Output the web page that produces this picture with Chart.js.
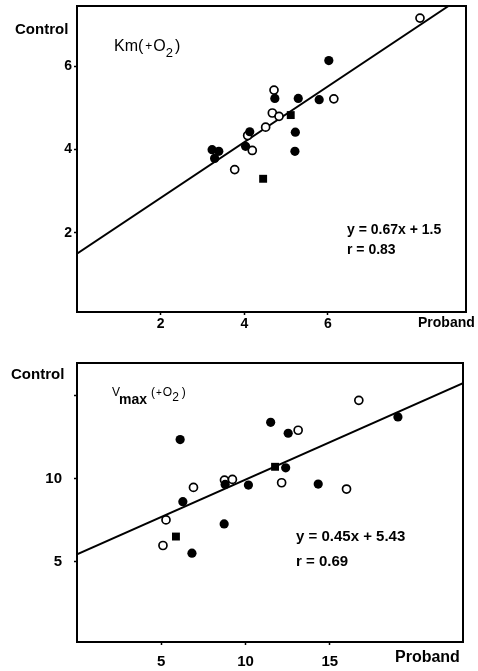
<!DOCTYPE html>
<html>
<head>
<meta charset="utf-8">
<script src="https://cdn.jsdelivr.net/npm/chart.js@4.4.1/dist/chart.umd.min.js"></script>
<style>
  html, body { margin: 0; padding: 0; background: #fff; }
  #wrap { position: relative; width: 478px; height: 671px; }
  .panel { position: absolute; left: 0; width: 478px; }
  #top { top: 0; height: 335px; }
  #bottom { top: 335px; height: 336px; }
</style>
</head>
<body>
<div id="wrap">
  <div class="panel" id="top"><canvas id="kmChart" width="478" height="335"></canvas></div>
  <div class="panel" id="bottom"><canvas id="vmaxChart" width="478" height="336"></canvas></div>
</div>
<script>
// Km (+O2): proband vs control
const kmFilledX = [6.02, 4.73, 5.29, 5.79, 4.13, 5.22, 4.03, 3.23, 3.39, 3.29, 5.21];
const kmFilledY = [6.14, 5.23, 5.23, 5.20, 4.43, 4.42, 4.08, 4.00, 3.96, 3.79, 3.96];
const kmOpenX = [8.20, 4.71, 6.14, 4.67, 4.83, 4.51, 4.08, 4.19, 3.77];
const kmOpenY = [7.16, 5.43, 5.22, 4.88, 4.80, 4.54, 4.34, 3.98, 3.52];
const kmMeanX = [5.11, 4.45];
const kmMeanY = [4.83, 3.30];
const kmSlope = 0.67;
const kmIntercept = 1.5;
const kmR = 0.83;
const kmXTicks = [2, 4, 6];
const kmYTicks = [2, 4, 6];
const kmYTickLabels = ['2', '4', '6'];

// Vmax (+O2): proband vs control
const vFilledX = [19.04, 11.49, 12.53, 6.12, 12.38, 8.79, 10.17, 14.31, 6.28, 8.73, 6.82];
const vFilledY = [13.70, 13.38, 12.72, 12.34, 10.64, 9.64, 9.60, 9.66, 8.60, 7.26, 5.50];
const vOpenX = [16.72, 13.12, 8.75, 9.22, 12.14, 15.99, 6.91, 5.28, 5.10];
const vOpenY = [14.70, 12.90, 9.90, 9.94, 9.74, 9.36, 9.46, 7.50, 5.96];
const vMeanX = [11.75, 5.87];
const vMeanY = [10.70, 6.50];
const vSlope = 0.45;
const vIntercept = 5.43;
const vR = 0.69;
const vXTicks = [5, 10, 15];
const vYTicks = [5, 10, 15];
const vYTickLabels = ['5', '10', ''];

const FONT = '"Liberation Sans", Arial, sans-serif';

function pts(xs, ys) {
  return xs.map((x, i) => ({ x: x, y: ys[i] }));
}

// Writes a run of text pieces; each piece may be shifted (sub/superscript) and resized.
function drawRuns(ctx, x, y, runs) {
  let cx = x;
  runs.forEach(r => {
    cx += (r.pre || 0);
    ctx.font = (r.weight || 'bold') + ' ' + r.size + 'px ' + FONT;
    ctx.fillText(r.text, cx, y + (r.dy || 0));
    cx += ctx.measureText(r.text).width;
  });
}

function makeChart(canvasId, cfg) {
  const frame = {
    id: 'frame',
    afterDraw(chart) {
      const a = chart.chartArea;
      const ctx = chart.ctx;
      ctx.save();
      ctx.strokeStyle = '#000';
      ctx.lineWidth = 2;
      ctx.strokeRect(a.left, a.top, a.right - a.left, a.bottom - a.top);
      ctx.fillStyle = '#000';
      ctx.textBaseline = 'middle';
      ctx.textAlign = 'left';
      cfg.texts(ctx, chart);
      ctx.restore();
    }
  };

  const xMin = cfg.xMin, xMax = cfg.xMax;
  const fitLine = [
    { x: xMin, y: cfg.slope * xMin + cfg.intercept },
    { x: xMax, y: cfg.slope * xMax + cfg.intercept }
  ];

  const noEdgePadding = s => {
    s.paddingTop = 0; s.paddingBottom = 0; s.paddingLeft = 0; s.paddingRight = 0;
  };

  return new Chart(document.getElementById(canvasId), {
    type: 'scatter',
    data: {
      datasets: [
        {
          type: 'line', data: fitLine, borderColor: '#000', borderWidth: 1.9,
          pointRadius: 0, fill: false, order: 3
        },
        {
          data: pts(cfg.openX, cfg.openY), pointStyle: 'circle', pointRadius: 4,
          pointBackgroundColor: '#fff', pointBorderColor: '#000', pointBorderWidth: 1.7, order: 2
        },
        {
          data: pts(cfg.filledX, cfg.filledY), pointStyle: 'circle', pointRadius: 4.6,
          pointBackgroundColor: '#000', pointBorderColor: '#000', pointBorderWidth: 0, order: 1
        },
        {
          data: pts(cfg.meanX, cfg.meanY), pointStyle: 'rect', pointRadius: 5.6,
          pointBackgroundColor: '#000', pointBorderColor: '#000', pointBorderWidth: 0, order: 0
        }
      ]
    },
    options: {
      responsive: false,
      animation: false,
      events: [],
      layout: { padding: cfg.padding },
      plugins: { legend: { display: false }, tooltip: { enabled: false } },
      scales: {
        x: {
          type: 'linear', min: xMin, max: xMax,
          afterBuildTicks(s) { s.ticks = cfg.xTicks.map(v => ({ value: v })); },
          afterFit(s) { s.height = cfg.xAxisHeight; noEdgePadding(s); },
          grid: { drawOnChartArea: false, drawTicks: true, tickLength: 3, tickColor: '#000', tickWidth: 1.5 },
          border: { display: false },
          ticks: {
            color: '#000', padding: cfg.xTickPad, maxRotation: 0, autoSkip: false,
            font: { family: FONT, size: cfg.tickSize, weight: 'bold' },
            callback: v => String(v)
          }
        },
        y: {
          type: 'linear', min: cfg.yMin, max: cfg.yMax,
          afterBuildTicks(s) { s.ticks = cfg.yTicks.map(v => ({ value: v })); },
          afterFit(s) { s.width = cfg.yAxisWidth; noEdgePadding(s); },
          grid: { drawOnChartArea: false, drawTicks: true, tickLength: 3, tickColor: '#000', tickWidth: 1.5 },
          border: { display: false },
          ticks: {
            color: '#000', padding: cfg.yTickPad, autoSkip: false,
            font: { family: FONT, size: cfg.tickSize, weight: 'bold' },
            callback: v => cfg.yTickLabels[cfg.yTicks.indexOf(v)]
          }
        }
      }
    },
    plugins: [frame]
  });
}

makeChart('kmChart', {
  filledX: kmFilledX, filledY: kmFilledY,
  openX: kmOpenX, openY: kmOpenY,
  meanX: kmMeanX, meanY: kmMeanY,
  slope: kmSlope, intercept: kmIntercept,
  xTicks: kmXTicks, yTicks: kmYTicks, yTickLabels: kmYTickLabels,
  xMin: 0, xMax: 9.3, yMin: 0.1, yMax: 7.45,
  padding: { top: 6, right: 12, left: 0, bottom: 0 },
  yAxisWidth: 77, xAxisHeight: 23,
  tickSize: 14, xTickPad: 1, yTickPad: 2,
  texts(ctx) {
    drawRuns(ctx, 15, 30, [{ text: 'Control', size: 15 }]);
    drawRuns(ctx, 114, 47, [
      { text: 'Km(', size: 16, weight: 'normal' },
      { text: '+', size: 12, weight: 'normal', pre: 2 },
      { text: 'O', size: 16, weight: 'normal', pre: 1 },
      { text: '2', size: 13, weight: 'normal', dy: 6 },
      { text: ')', size: 16, weight: 'normal', pre: 2 }
    ]);
    drawRuns(ctx, 347, 230, [{ text: 'y = ' + kmSlope + 'x + ' + kmIntercept, size: 14 }]);
    drawRuns(ctx, 347, 250, [{ text: 'r = ' + kmR, size: 14 }]);
    drawRuns(ctx, 418, 323, [{ text: 'Proband', size: 14 }]);
  }
});

makeChart('vmaxChart', {
  filledX: vFilledX, filledY: vFilledY,
  openX: vOpenX, openY: vOpenY,
  meanX: vMeanX, meanY: vMeanY,
  slope: vSlope, intercept: vIntercept,
  xTicks: vXTicks, yTicks: vYTicks, yTickLabels: vYTickLabels,
  xMin: 0, xMax: 22.9, yMin: 0.15, yMax: 16.95,
  padding: { top: 28, right: 15, left: 0, bottom: 0 },
  yAxisWidth: 77, xAxisHeight: 29,
  tickSize: 15, xTickPad: 8, yTickPad: 12,
  texts(ctx) {
    drawRuns(ctx, 11, 40, [{ text: 'Control', size: 15 }]);
    drawRuns(ctx, 112, 58, [
      { text: 'V', size: 12, weight: 'normal' },
      { text: 'max', size: 14, weight: 'bold', dy: 7, pre: -1 },
      { text: '(', size: 12, weight: 'normal', pre: 4 },
      { text: '+', size: 10, weight: 'normal', pre: 1 },
      { text: 'O', size: 12, weight: 'normal', pre: 1 },
      { text: '2', size: 12, weight: 'normal', dy: 5 },
      { text: ')', size: 12, weight: 'normal', pre: 3 }
    ]);
    drawRuns(ctx, 296, 202, [{ text: 'y = ' + vSlope + 'x + ' + vIntercept, size: 15 }]);
    drawRuns(ctx, 296, 227, [{ text: 'r = ' + vR, size: 15 }]);
    drawRuns(ctx, 395, 323, [{ text: 'Proband', size: 16 }]);
  }
});
</script>
</body>
</html>
